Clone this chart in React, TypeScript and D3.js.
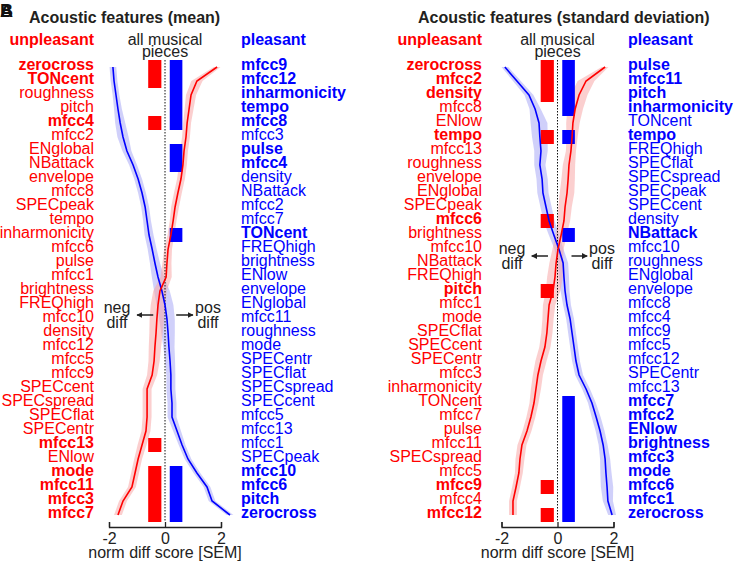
import * as d3 from "d3"
import { useEffect, useRef } from "react"

const WIDTH = 735
const HEIGHT = 563
const RED = "#ff0000"
const BLUE = "#0000ff"
const FONT = "'Liberation Sans', Arial, sans-serif"

// row labels, top to bottom
const meanUnpleasantLabels = [
  "zerocross", "TONcent", "roughness", "pitch", "mfcc4", "mfcc2", "ENglobal",
  "NBattack", "envelope", "mfcc8", "SPECpeak", "tempo", "inharmonicity",
  "mfcc6", "pulse", "mfcc1", "brightness", "FREQhigh", "mfcc10", "density",
  "mfcc12", "mfcc5", "mfcc9", "SPECcent", "SPECspread", "SPECflat",
  "SPECentr", "mfcc13", "ENlow", "mode", "mfcc11", "mfcc3", "mfcc7",
]
const meanPleasantLabels = [
  "mfcc9", "mfcc12", "inharmonicity", "tempo", "mfcc8", "mfcc3", "pulse",
  "mfcc4", "density", "NBattack", "mfcc2", "mfcc7", "TONcent", "FREQhigh",
  "brightness", "ENlow", "envelope", "ENglobal", "mfcc11", "roughness",
  "mode", "SPECentr", "SPECflat", "SPECspread", "SPECcent", "mfcc5",
  "mfcc13", "mfcc1", "SPECpeak", "mfcc10", "mfcc6", "pitch", "zerocross",
]
const sdUnpleasantLabels = [
  "zerocross", "mfcc2", "density", "mfcc8", "ENlow", "tempo", "mfcc13",
  "roughness", "envelope", "ENglobal", "SPECpeak", "mfcc6", "brightness",
  "mfcc10", "NBattack", "FREQhigh", "pitch", "mfcc1", "mode", "SPECflat",
  "SPECcent", "SPECentr", "mfcc3", "inharmonicity", "TONcent", "mfcc7",
  "pulse", "mfcc11", "SPECspread", "mfcc5", "mfcc9", "mfcc4", "mfcc12",
]
const sdPleasantLabels = [
  "pulse", "mfcc11", "pitch", "inharmonicity", "TONcent", "tempo",
  "FREQhigh", "SPECflat", "SPECspread", "SPECpeak", "SPECcent", "density",
  "NBattack", "mfcc10", "roughness", "ENglobal", "envelope", "mfcc8",
  "mfcc4", "mfcc9", "mfcc5", "mfcc12", "SPECentr", "mfcc13", "mfcc7",
  "mfcc2", "ENlow", "brightness", "mfcc3", "mode", "mfcc6", "mfcc1",
  "zerocross",
]

// significant rows (bold label + bar)
const meanUnpleasantSig = [0, 1, 4, 27, 29, 30, 31, 32]
const meanPleasantSig = [0, 1, 2, 3, 4, 6, 7, 12, 29, 30, 31, 32]
const sdUnpleasantSig = [0, 1, 2, 5, 11, 16, 30, 32]
const sdPleasantSig = [0, 1, 2, 3, 5, 12, 24, 25, 26, 27, 28, 29, 30, 31, 32]

// norm diff score curves [SEM], one value per row
const meanBlueCurve = [
  -1.86, -1.82, -1.75, -1.68, -1.6, -1.5, -1.36, -1.14, -0.96, -0.82, -0.71,
  -0.64, -0.57, -0.46, -0.36, -0.25, -0.11, 0.0, 0.07, 0.11, 0.14, 0.18,
  0.21, 0.21, 0.25, 0.25, 0.43, 0.61, 0.82, 1.14, 1.5, 1.68, 2.32,
]
const meanBlueSem = [
  0.12, 0.12, 0.12, 0.14, 0.18, 0.2, 0.16, 0.14, 0.14, 0.14, 0.14, 0.14,
  0.16, 0.16, 0.18, 0.22, 0.28, 0.3, 0.28, 0.24, 0.2, 0.18, 0.16, 0.16, 0.16,
  0.16, 0.14, 0.12, 0.12, 0.12, 0.12, 0.12, 0.12,
]
const meanRedCurve = [
  1.86, 1.14, 0.93, 0.86, 0.79, 0.75, 0.68, 0.64, 0.57, 0.46, 0.36, 0.29,
  0.21, 0.11, 0.07, 0.04, -0.18, -0.25, -0.29, -0.32, -0.36, -0.39, -0.46,
  -0.64, -0.64, -0.64, -0.68, -0.82, -0.96, -1.07, -1.18, -1.5, -1.68,
]
const meanRedSem = [
  0.12, 0.2, 0.18, 0.16, 0.14, 0.14, 0.14, 0.14, 0.14, 0.14, 0.14, 0.12,
  0.12, 0.14, 0.16, 0.2, 0.24, 0.26, 0.26, 0.24, 0.22, 0.2, 0.18, 0.16, 0.16,
  0.16, 0.16, 0.16, 0.14, 0.14, 0.14, 0.14, 0.14,
]
const sdBlueCurve = [
  -1.88, -1.45, -1.02, -0.8, -0.66, -0.63, -0.59, -0.63, -0.55, -0.52, -0.41,
  -0.3, -0.13, 0.05, 0.2, 0.23, 0.27, 0.34, 0.45, 0.52, 0.59, 0.66, 0.77,
  1.02, 1.23, 1.38, 1.52, 1.63, 1.7, 1.73, 1.77, 1.8, 1.95,
]
const sdBlueSem = [
  0.12, 0.14, 0.16, 0.2, 0.3, 0.28, 0.24, 0.2, 0.2, 0.2, 0.2, 0.2, 0.18,
  0.16, 0.18, 0.18, 0.16, 0.14, 0.14, 0.14, 0.14, 0.14, 0.14, 0.14, 0.14,
  0.16, 0.16, 0.16, 0.18, 0.2, 0.22, 0.18, 0.14,
]
const sdRedCurve = [
  1.7, 1.02, 0.77, 0.63, 0.55, 0.52, 0.48, 0.41, 0.38, 0.34, 0.27, 0.23,
  0.13, 0.02, -0.05, -0.09, -0.16, -0.3, -0.34, -0.38, -0.45, -0.59, -0.7,
  -0.77, -0.84, -0.95, -1.09, -1.27, -1.34, -1.38, -1.48, -1.59, -1.59,
]
const sdRedSem = [
  0.12, 0.3, 0.3, 0.28, 0.24, 0.2, 0.18, 0.22, 0.24, 0.26, 0.24, 0.22, 0.2,
  0.2, 0.24, 0.28, 0.26, 0.22, 0.2, 0.2, 0.2, 0.2, 0.18, 0.18, 0.16, 0.16,
  0.16, 0.16, 0.16, 0.14, 0.14, 0.14, 0.14,
]

const xTicks = [-2, 0, 2]

type Panel = {
  title: string
  titleX: number
  range: [number, number]
  unpleasantX: number
  pleasantX: number
  unpleasant: string[]
  pleasant: string[]
  unpleasantSig: number[]
  pleasantSig: number[]
  blue: number[]
  blueSem: number[]
  red: number[]
  redSem: number[]
  arrowY: number
  negX: number
  posX: number
  arrowNeg: [number, number]
  arrowPos: [number, number]
}

const panels: Panel[] = [
  {
    title: "Acoustic features (mean)",
    titleX: 29,
    range: [109, 221],
    unpleasantX: 94,
    pleasantX: 241,
    unpleasant: meanUnpleasantLabels,
    pleasant: meanPleasantLabels,
    unpleasantSig: meanUnpleasantSig,
    pleasantSig: meanPleasantSig,
    blue: meanBlueCurve,
    blueSem: meanBlueSem,
    red: meanRedCurve,
    redSem: meanRedSem,
    arrowY: 315,
    negX: 117,
    posX: 208,
    arrowNeg: [-0.42, -1.0],
    arrowPos: [0.4, 1.0],
  },
  {
    title: "Acoustic features (standard deviation)",
    titleX: 418,
    range: [501.5, 613.5],
    unpleasantX: 482,
    pleasantX: 628,
    unpleasant: sdUnpleasantLabels,
    pleasant: sdPleasantLabels,
    unpleasantSig: sdUnpleasantSig,
    pleasantSig: sdPleasantSig,
    blue: sdBlueCurve,
    blueSem: sdBlueSem,
    red: sdRedCurve,
    redSem: sdRedSem,
    arrowY: 256,
    negX: 512,
    posX: 602,
    arrowNeg: [-0.34, -0.92],
    arrowPos: [0.5, 1.06],
  },
]

const App = () => {
  const svgRef = useRef<SVGSVGElement>(null)

  useEffect(() => {
    if (!svgRef.current) return
    const svg = d3.select(svgRef.current)
    svg.selectAll("*").remove()
    svg.attr("font-family", FONT)

    const defs = svg.append("defs")
    defs
      .append("marker")
      .attr("id", "arrowhead")
      .attr("viewBox", "0 0 10 10")
      .attr("refX", 9)
      .attr("refY", 5)
      .attr("markerWidth", 4)
      .attr("markerHeight", 4)
      .attr("orient", "auto")
      .append("path")
      .attr("d", "M0,0 L10,5 L0,10 z")
      .attr("fill", "#222")

    // panel letters (overlapping A / B)
    svg.append("text").attr("x", 0).attr("y", 17).attr("font-size", 18)
      .attr("font-weight", "bold").attr("fill", "#111").text("B")
    svg.append("text").attr("x", 0).attr("y", 17).attr("font-size", 18)
      .attr("font-weight", "bold").attr("fill", "#111").text("A")

    const n = meanUnpleasantLabels.length
    const y = d3
      .scaleBand<number>()
      .domain(d3.range(n))
      .range([60, 522])
    const yc = (i: number) => (y(i) ?? 0) + y.bandwidth() / 2

    panels.forEach((p) => {
      const x = d3.scaleLinear().domain([-2, 2]).range(p.range)
      const g = svg.append("g")

      g.append("text")
        .attr("x", p.titleX)
        .attr("y", 23)
        .attr("font-size", 16)
        .attr("font-weight", "bold")
        .attr("fill", "#231f20")
        .text(p.title)

      // column headers
      g.append("text")
        .attr("x", p.unpleasantX)
        .attr("y", 45)
        .attr("text-anchor", "end")
        .attr("font-size", 16)
        .attr("font-weight", "bold")
        .attr("fill", RED)
        .text("unpleasant")
      g.append("text")
        .attr("x", p.pleasantX)
        .attr("y", 45)
        .attr("font-size", 16)
        .attr("font-weight", "bold")
        .attr("fill", BLUE)
        .text("pleasant")
      g.append("text")
        .attr("x", x(0))
        .attr("y", 45)
        .attr("text-anchor", "middle")
        .attr("font-size", 16)
        .attr("fill", "#222")
        .text("all musical")
      g.append("text")
        .attr("x", x(0))
        .attr("y", 57)
        .attr("text-anchor", "middle")
        .attr("font-size", 16)
        .attr("fill", "#222")
        .text("pieces")

      // row labels
      g.selectAll(".unp")
        .data(p.unpleasant)
        .join("text")
        .attr("x", p.unpleasantX)
        .attr("y", (_, i) => yc(i) + 3)
        .attr("text-anchor", "end")
        .attr("font-size", 16)
        .attr("font-weight", (_, i) => (p.unpleasantSig.includes(i) ? "bold" : "normal"))
        .attr("fill", RED)
        .text((d) => d)
      g.selectAll(".ple")
        .data(p.pleasant)
        .join("text")
        .attr("x", p.pleasantX)
        .attr("y", (_, i) => yc(i) + 3)
        .attr("font-size", 16)
        .attr("font-weight", (_, i) => (p.pleasantSig.includes(i) ? "bold" : "normal"))
        .attr("fill", BLUE)
        .text((d) => d)

      const curves = [
        { vals: p.blue, sem: p.blueSem, color: BLUE, band: "#a9a9f5" },
        { vals: p.red, sem: p.redSem, color: RED, band: "#f7a8a8" },
      ]

      // sem bands, drawn first so the bars stay solid
      curves.forEach((c) => {
        const area = d3
          .area<number>()
          .y((_, i) => yc(i))
          .x0((d, i) => x(d - c.sem[i]))
          .x1((d, i) => x(d + c.sem[i]))
        g.append("path")
          .attr("d", area(c.vals))
          .attr("fill", c.band)
          .attr("opacity", 0.55)
      })

      // significance bars
      g.selectAll(".rbar")
        .data(p.unpleasantSig)
        .join("rect")
        .attr("x", x(-0.6))
        .attr("width", x(-0.13) - x(-0.6))
        .attr("y", (d) => y(d) ?? 0)
        .attr("height", y.bandwidth())
        .attr("fill", RED)
      g.selectAll(".bbar")
        .data(p.pleasantSig)
        .join("rect")
        .attr("x", x(0.17))
        .attr("width", x(0.62) - x(0.17))
        .attr("y", (d) => y(d) ?? 0)
        .attr("height", y.bandwidth())
        .attr("fill", BLUE)

      // zero line
      g.append("line")
        .attr("x1", x(0))
        .attr("x2", x(0))
        .attr("y1", 60)
        .attr("y2", 522)
        .attr("stroke", "#111")
        .attr("stroke-width", 1)
        .attr("stroke-dasharray", "1.5,1.5")

      curves.forEach((c) => {
        const line = d3
          .line<number>()
          .y((_, i) => yc(i))
          .x((d) => x(d))
        g.append("path")
          .attr("d", line(c.vals))
          .attr("fill", "none")
          .attr("stroke", c.color)
          .attr("stroke-width", 1.6)
      })

      // neg / pos annotations
      ;[
        { tx: p.negX, arr: p.arrowNeg, word: "neg" },
        { tx: p.posX, arr: p.arrowPos, word: "pos" },
      ].forEach((a) => {
        g.append("text")
          .attr("x", a.tx)
          .attr("y", p.arrowY - 2)
          .attr("text-anchor", "middle")
          .attr("font-size", 16)
          .attr("fill", "#222")
          .text(a.word)
        g.append("text")
          .attr("x", a.tx)
          .attr("y", p.arrowY + 13)
          .attr("text-anchor", "middle")
          .attr("font-size", 16)
          .attr("fill", "#222")
          .text("diff")
        g.append("line")
          .attr("x1", x(a.arr[0]))
          .attr("x2", x(a.arr[1]))
          .attr("y1", p.arrowY)
          .attr("y2", p.arrowY)
          .attr("stroke", "#222")
          .attr("stroke-width", 1.5)
          .attr("marker-end", "url(#arrowhead)")
      })

      // x axis
      const axis = g
        .append("g")
        .attr("transform", "translate(0, 527)")
        .call(
          d3
            .axisBottom(x)
            .tickValues(xTicks)
            .tickSize(-5)
            .tickPadding(6)
            .tickFormat((d) => String(d)),
        )
      axis.select(".domain").attr("stroke", "#222").attr("stroke-width", 1.3)
      axis.selectAll(".tick line").attr("stroke", "#222").attr("stroke-width", 1.3)
      axis
        .selectAll(".tick text")
        .attr("font-size", 16)
        .attr("font-family", FONT)
        .attr("fill", "#222")
      g.append("text")
        .attr("x", x(0))
        .attr("y", 558)
        .attr("text-anchor", "middle")
        .attr("font-size", 16)
        .attr("fill", "#222")
        .text("norm diff score [SEM]")
    })
  }, [])

  return (
    <svg
      ref={svgRef}
      width={WIDTH}
      height={HEIGHT}
      style={{ position: "absolute", left: 0, top: 0, background: "#fff", display: "block" }}
    />
  )
}

export default App
